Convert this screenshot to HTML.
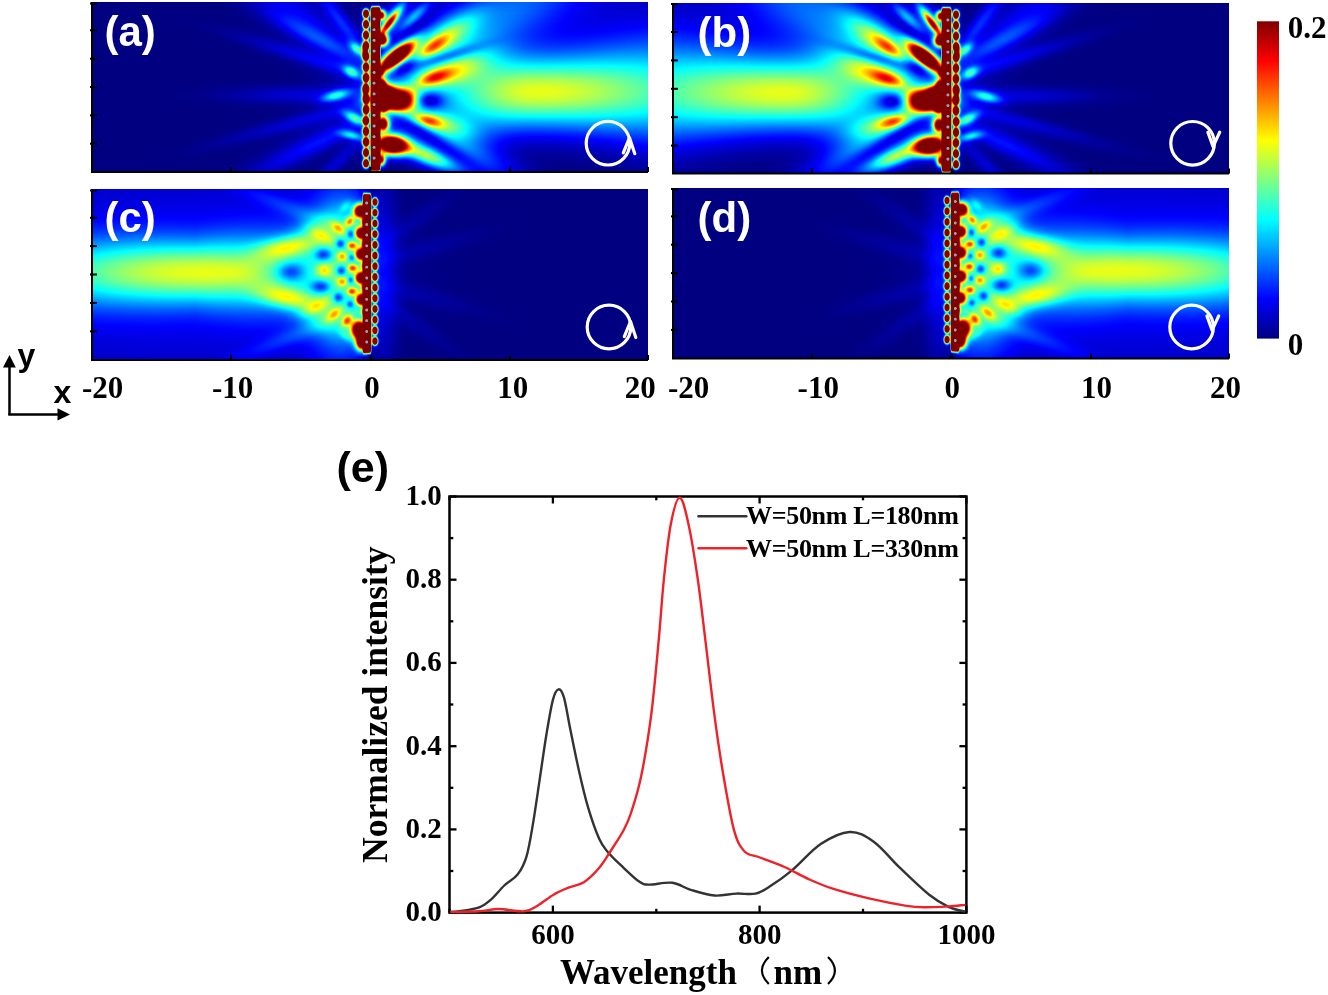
<!DOCTYPE html>
<html><head><meta charset="utf-8"><style>
html,body{margin:0;padding:0;background:#fff;}
body{width:1328px;height:995px;overflow:hidden;position:relative;}
canvas{position:absolute;}
.fb{position:absolute;width:557px;}
.t{position:absolute;font-weight:bold;line-height:1;white-space:nowrap;}
svg{position:absolute;left:0;top:0;}
</style></head><body>
<div class="fb" style="left:91px;top:2px;height:170px;background:
 linear-gradient(90deg,transparent 271px,#800000 272px,#800000 290px,transparent 291px),
 radial-gradient(ellipse 40px 14px at 305px 98px,#800000 40%,#ff4000 60%,transparent 100%),
 radial-gradient(ellipse 40px 16px at 302px 50px,#ff3000 35%,#ffc000 60%,transparent 100%),
 radial-gradient(ellipse 40px 14px at 302px 140px,#ff3000 35%,#ffc000 60%,transparent 100%),
 radial-gradient(ellipse 170px 55px at 455px 90px,#d0ff30 0%,#80ff80 30%,#00ffff 55%,#0060ff 80%,transparent 100%),#000080"></div>
<div class="fb" style="left:672px;top:3px;height:171px;background:
 linear-gradient(270deg,transparent 271px,#800000 272px,#800000 290px,transparent 291px),
 radial-gradient(ellipse 40px 14px at 252px 98px,#800000 40%,#ff4000 60%,transparent 100%),
 radial-gradient(ellipse 40px 16px at 255px 50px,#ff3000 35%,#ffc000 60%,transparent 100%),
 radial-gradient(ellipse 40px 14px at 255px 140px,#ff3000 35%,#ffc000 60%,transparent 100%),
 radial-gradient(ellipse 170px 55px at 102px 90px,#d0ff30 0%,#80ff80 30%,#00ffff 55%,#0060ff 80%,transparent 100%),#000080"></div>
<div class="fb" style="left:91px;top:189px;height:171px;background:
 linear-gradient(90deg,transparent 266px,#800000 267px,#800000 287px,transparent 288px),
 radial-gradient(ellipse 60px 70px at 250px 85px,#ffc000 0%,#00ffff 50%,transparent 100%),
 radial-gradient(ellipse 200px 50px at 104px 83px,#d0ff30 0%,#80ff80 30%,#00ffff 55%,#0060ff 80%,transparent 100%),#000080"></div>
<div class="fb" style="left:672px;top:188px;height:171px;background:
 linear-gradient(270deg,transparent 266px,#800000 267px,#800000 287px,transparent 288px),
 radial-gradient(ellipse 60px 70px at 307px 85px,#ffc000 0%,#00ffff 50%,transparent 100%),
 radial-gradient(ellipse 200px 50px at 453px 83px,#d0ff30 0%,#80ff80 30%,#00ffff 55%,#0060ff 80%,transparent 100%),#000080"></div>
<canvas id="ca" width="557" height="170" style="left:91px;top:2px"></canvas>
<canvas id="cb" width="557" height="171" style="left:672px;top:3px"></canvas>
<canvas id="cc" width="557" height="171" style="left:91px;top:189px"></canvas>
<canvas id="cd" width="557" height="171" style="left:672px;top:188px"></canvas>
<svg width="1328" height="995" viewBox="0 0 1328 995">
<path d="M92,2.5 V172 H648" fill="none" stroke="#000" stroke-width="2"/>
<path d="M90,30.3 H97" stroke="#000" stroke-width="2"/>
<path d="M90,58.7 H97" stroke="#000" stroke-width="2"/>
<path d="M90,87 H97" stroke="#000" stroke-width="2"/>
<path d="M90,115.4 H97" stroke="#000" stroke-width="2"/>
<path d="M90,143.7 H97" stroke="#000" stroke-width="2"/>
<path d="M90,3.5 H97" stroke="#000" stroke-width="2"/>
<path d="M231,172 V167" stroke="#000" stroke-width="2"/>
<path d="M370.5,172 V167" stroke="#000" stroke-width="2"/>
<path d="M510,172 V167" stroke="#000" stroke-width="2"/>
<path d="M648,172 V167" stroke="#000" stroke-width="2"/>
<path d="M673,3 V173.5 H1229" fill="none" stroke="#000" stroke-width="2"/>
<path d="M671,32 H678" stroke="#000" stroke-width="2"/>
<path d="M671,60.4 H678" stroke="#000" stroke-width="2"/>
<path d="M671,88.8 H678" stroke="#000" stroke-width="2"/>
<path d="M671,117.2 H678" stroke="#000" stroke-width="2"/>
<path d="M671,145.6 H678" stroke="#000" stroke-width="2"/>
<path d="M671,4 H678" stroke="#000" stroke-width="2"/>
<path d="M812,173.5 V168.5" stroke="#000" stroke-width="2"/>
<path d="M951.5,173.5 V168.5" stroke="#000" stroke-width="2"/>
<path d="M1091,173.5 V168.5" stroke="#000" stroke-width="2"/>
<path d="M1229,173.5 V168.5" stroke="#000" stroke-width="2"/>
<path d="M92,189.5 V360 H648" fill="none" stroke="#000" stroke-width="2"/>
<path d="M90,217.8 H97" stroke="#000" stroke-width="2"/>
<path d="M90,246.1 H97" stroke="#000" stroke-width="2"/>
<path d="M90,274.5 H97" stroke="#000" stroke-width="2"/>
<path d="M90,302.9 H97" stroke="#000" stroke-width="2"/>
<path d="M90,331.3 H97" stroke="#000" stroke-width="2"/>
<path d="M90,190.5 H97" stroke="#000" stroke-width="2"/>
<path d="M231,360 V355" stroke="#000" stroke-width="2"/>
<path d="M370.5,360 V355" stroke="#000" stroke-width="2"/>
<path d="M510,360 V355" stroke="#000" stroke-width="2"/>
<path d="M648,360 V355" stroke="#000" stroke-width="2"/>
<path d="M673,188 V358.5 H1229" fill="none" stroke="#000" stroke-width="2"/>
<path d="M671,216.4 H678" stroke="#000" stroke-width="2"/>
<path d="M671,244.7 H678" stroke="#000" stroke-width="2"/>
<path d="M671,273.1 H678" stroke="#000" stroke-width="2"/>
<path d="M671,301.5 H678" stroke="#000" stroke-width="2"/>
<path d="M671,329.9 H678" stroke="#000" stroke-width="2"/>
<path d="M671,189 H678" stroke="#000" stroke-width="2"/>
<path d="M812,358.5 V353.5" stroke="#000" stroke-width="2"/>
<path d="M951.5,358.5 V353.5" stroke="#000" stroke-width="2"/>
<path d="M1091,358.5 V353.5" stroke="#000" stroke-width="2"/>
<path d="M1229,358.5 V353.5" stroke="#000" stroke-width="2"/>
<circle cx="608" cy="143.2" r="21.8" fill="none" stroke="#fff" stroke-width="3.2"/><path d="M623.3,152.89999999999998 L629.5,137.7 L634.8,153.7" fill="none" stroke="#fff" stroke-width="3.2" stroke-linecap="round" stroke-linejoin="round"/>
<circle cx="1192.6" cy="143.3" r="21.8" fill="none" stroke="#fff" stroke-width="3.2"/><path d="M1207.8999999999999,132.20000000000002 L1213.1,146.60000000000002 L1219.6999999999998,132.20000000000002" fill="none" stroke="#fff" stroke-width="3.2" stroke-linecap="round" stroke-linejoin="round"/>
<circle cx="609" cy="327" r="21.8" fill="none" stroke="#fff" stroke-width="3.2"/><path d="M624.3,336.7 L630.5,321.5 L635.8,337.5" fill="none" stroke="#fff" stroke-width="3.2" stroke-linecap="round" stroke-linejoin="round"/>
<circle cx="1191.6" cy="327" r="21.8" fill="none" stroke="#fff" stroke-width="3.2"/><path d="M1206.8999999999999,315.9 L1212.1,330.3 L1218.6999999999998,315.9" fill="none" stroke="#fff" stroke-width="3.2" stroke-linecap="round" stroke-linejoin="round"/>
<path d="M9.5,415 V366" stroke="#000" stroke-width="2.5"/><path d="M3,367.5 L9.5,355 L15.8,367.5 Z" fill="#000"/>
<path d="M8.3,414.4 H58" stroke="#000" stroke-width="2.5"/><path d="M57.5,408.3 L70,414.4 L57.5,420.5 Z" fill="#000"/>
<defs><linearGradient id="jet" x1="0" y1="1" x2="0" y2="0"><stop offset="0" stop-color="#000080"/><stop offset="0.125" stop-color="#0000ff"/><stop offset="0.375" stop-color="#00ffff"/><stop offset="0.5" stop-color="#80ff80"/><stop offset="0.625" stop-color="#ffff00"/><stop offset="0.875" stop-color="#ff0000"/><stop offset="1" stop-color="#800000"/></linearGradient></defs>
<rect x="1257" y="21.3" width="22" height="317.3" fill="url(#jet)"/>
<rect x="449.5" y="496.5" width="516.9" height="416.1" fill="none" stroke="#000" stroke-width="2.5"/>
<path d="M449.5,912.6 V908.8000000000001" stroke="#000" stroke-width="2.3"/>
<path d="M449.5,496.5 V500.3" stroke="#000" stroke-width="2.3"/>
<path d="M552.9,912.6 V905.6" stroke="#000" stroke-width="2.3"/>
<path d="M552.9,496.5 V503.5" stroke="#000" stroke-width="2.3"/>
<path d="M656.3,912.6 V908.8000000000001" stroke="#000" stroke-width="2.3"/>
<path d="M656.3,496.5 V500.3" stroke="#000" stroke-width="2.3"/>
<path d="M759.6,912.6 V905.6" stroke="#000" stroke-width="2.3"/>
<path d="M759.6,496.5 V503.5" stroke="#000" stroke-width="2.3"/>
<path d="M863.0,912.6 V908.8000000000001" stroke="#000" stroke-width="2.3"/>
<path d="M863.0,496.5 V500.3" stroke="#000" stroke-width="2.3"/>
<path d="M966.4,912.6 V905.6" stroke="#000" stroke-width="2.3"/>
<path d="M966.4,496.5 V503.5" stroke="#000" stroke-width="2.3"/>
<path d="M449.5,912.6 H456.5" stroke="#000" stroke-width="2.3"/>
<path d="M966.4,912.6 H959.4" stroke="#000" stroke-width="2.3"/>
<path d="M449.5,871.0 H453.3" stroke="#000" stroke-width="2.3"/>
<path d="M966.4,871.0 H962.6" stroke="#000" stroke-width="2.3"/>
<path d="M449.5,829.4 H456.5" stroke="#000" stroke-width="2.3"/>
<path d="M966.4,829.4 H959.4" stroke="#000" stroke-width="2.3"/>
<path d="M449.5,787.8 H453.3" stroke="#000" stroke-width="2.3"/>
<path d="M966.4,787.8 H962.6" stroke="#000" stroke-width="2.3"/>
<path d="M449.5,746.2 H456.5" stroke="#000" stroke-width="2.3"/>
<path d="M966.4,746.2 H959.4" stroke="#000" stroke-width="2.3"/>
<path d="M449.5,704.5 H453.3" stroke="#000" stroke-width="2.3"/>
<path d="M966.4,704.5 H962.6" stroke="#000" stroke-width="2.3"/>
<path d="M449.5,662.9 H456.5" stroke="#000" stroke-width="2.3"/>
<path d="M966.4,662.9 H959.4" stroke="#000" stroke-width="2.3"/>
<path d="M449.5,621.3 H453.3" stroke="#000" stroke-width="2.3"/>
<path d="M966.4,621.3 H962.6" stroke="#000" stroke-width="2.3"/>
<path d="M449.5,579.7 H456.5" stroke="#000" stroke-width="2.3"/>
<path d="M966.4,579.7 H959.4" stroke="#000" stroke-width="2.3"/>
<path d="M449.5,538.1 H453.3" stroke="#000" stroke-width="2.3"/>
<path d="M966.4,538.1 H962.6" stroke="#000" stroke-width="2.3"/>
<path d="M449.5,496.5 H456.5" stroke="#000" stroke-width="2.3"/>
<path d="M966.4,496.5 H959.4" stroke="#000" stroke-width="2.3"/>
<path d="M450.4,912.0 C451.9,911.9 454.8,912.1 459.6,911.3 C464.4,910.5 474.0,909.3 479.2,907.4 C484.4,905.5 486.8,903.2 491.0,899.6 C495.2,896.0 499.9,889.7 504.3,885.5 C508.7,881.3 513.9,879.3 517.6,874.5 C521.3,869.7 523.8,865.3 526.4,856.8 C529.0,848.3 530.8,836.5 533.0,823.6 C535.2,810.7 537.5,794.1 539.7,779.4 C541.9,764.7 544.1,748.5 546.3,735.2 C548.5,722.0 550.9,707.5 552.9,699.9 C554.9,692.2 556.6,689.7 558.5,689.3 C560.4,688.9 562.0,690.8 564.0,697.7 C566.0,704.6 568.0,718.3 570.6,730.8 C573.2,743.3 576.5,759.9 579.4,772.8 C582.3,785.7 585.0,797.2 588.3,808.2 C591.6,819.2 596.0,831.7 599.3,839.1 C602.6,846.5 604.2,847.6 608.2,852.4 C612.2,857.2 618.5,862.9 623.6,867.8 C628.8,872.6 634.9,878.7 639.1,881.5 C643.3,884.3 643.5,884.4 649.0,884.6 C654.5,884.8 665.4,881.9 672.4,882.8 C679.4,883.7 683.7,887.7 690.7,889.8 C697.7,891.9 706.9,894.9 714.5,895.5 C722.1,896.1 729.4,893.9 736.2,893.6 C743.0,893.3 749.9,894.8 755.5,893.6 C761.1,892.4 764.0,890.1 770.0,886.3 C776.0,882.5 783.2,877.6 791.7,870.6 C800.2,863.6 811.1,850.5 820.7,844.1 C830.4,837.7 840.8,832.4 849.6,832.0 C858.4,831.6 865.2,835.7 873.7,841.7 C882.2,847.7 891.0,859.4 900.3,868.2 C909.5,877.1 921.2,888.4 929.2,894.8 C937.2,901.2 942.5,904.0 948.5,906.8 C954.5,909.6 962.6,910.9 965.4,911.7" fill="none" stroke="#333333" stroke-width="2.4"/>
<path d="M450.4,912.0 C455.2,911.9 470.9,911.8 479.0,911.3 C487.1,910.8 491.2,909.0 498.7,909.0 C506.2,909.0 517.7,911.9 524.2,911.3 C530.7,910.7 533.0,908.3 537.9,905.5 C542.8,902.7 548.4,897.7 553.5,894.7 C558.6,891.7 563.3,889.8 568.4,887.7 C573.5,885.6 578.8,885.5 583.9,882.2 C589.0,878.9 594.5,873.5 599.3,867.8 C604.1,862.1 608.5,854.2 612.6,848.0 C616.7,841.8 620.5,836.1 623.6,830.3 C626.7,824.5 628.1,821.9 631.0,813.0 C633.9,804.1 637.6,793.2 641.0,777.0 C644.4,760.8 648.1,738.5 651.1,715.7 C654.1,692.9 656.6,662.9 658.7,640.3 C660.8,617.7 661.8,599.4 663.8,580.0 C665.8,560.6 668.1,537.9 670.8,524.2 C673.4,510.5 676.8,497.7 679.7,497.7 C682.7,497.7 685.5,510.5 688.5,524.2 C691.5,537.9 695.1,560.6 697.9,580.0 C700.7,599.4 702.6,617.7 705.4,640.3 C708.2,662.9 711.5,693.1 714.5,715.7 C717.5,738.3 720.2,756.9 723.5,776.0 C726.8,795.1 730.6,817.8 734.1,830.4 C737.6,843.0 740.3,847.0 744.6,851.5 C748.9,856.0 753.4,854.9 760.0,857.5 C766.6,860.1 776.4,863.4 784.5,867.0 C792.6,870.6 800.6,875.5 808.6,879.1 C816.6,882.7 822.7,885.5 832.7,888.7 C842.8,891.9 856.8,895.6 868.9,898.4 C881.0,901.2 895.9,904.1 905.1,905.6 C914.4,907.1 917.2,907.2 924.4,907.3 C931.6,907.4 941.7,906.8 948.5,906.4 C955.3,906.0 962.6,905.1 965.4,904.9" fill="none" stroke="#ee2229" stroke-width="2.4"/>
<path d="M698.5,516.2 H746.3" stroke="#333333" stroke-width="2.4" stroke-linecap="round"/>
<path d="M698.5,548.2 H746.3" stroke="#ee2229" stroke-width="2.4" stroke-linecap="round"/>
</svg>
<div class="t" style="left:104.5px;top:11px;font-size:42px;font-family:'Liberation Sans';color:#fff;">(a)</div>
<div class="t" style="left:697.5px;top:12px;font-size:42px;font-family:'Liberation Sans';color:#fff;">(b)</div>
<div class="t" style="left:104.5px;top:197px;font-size:42px;font-family:'Liberation Sans';color:#fff;">(c)</div>
<div class="t" style="left:697.5px;top:197px;font-size:42px;font-family:'Liberation Sans';color:#fff;">(d)</div>
<div class="t" style="left:82px;top:371.5px;font-size:31px;font-family:'Liberation Serif';color:#000;">-20</div>
<div class="t" style="left:212px;top:371.5px;font-size:31px;font-family:'Liberation Serif';color:#000;">-10</div>
<div class="t" style="left:364.3px;top:371.5px;font-size:31px;font-family:'Liberation Serif';color:#000;">0</div>
<div class="t" style="left:497.2px;top:371.5px;font-size:31px;font-family:'Liberation Serif';color:#000;">10</div>
<div class="t" style="left:624.8px;top:371.5px;font-size:31px;font-family:'Liberation Serif';color:#000;">20</div>
<div class="t" style="left:668px;top:371.5px;font-size:31px;font-family:'Liberation Serif';color:#000;">-20</div>
<div class="t" style="left:797.6px;top:371.5px;font-size:31px;font-family:'Liberation Serif';color:#000;">-10</div>
<div class="t" style="left:944.4px;top:371.5px;font-size:31px;font-family:'Liberation Serif';color:#000;">0</div>
<div class="t" style="left:1081px;top:371.5px;font-size:31px;font-family:'Liberation Serif';color:#000;">10</div>
<div class="t" style="left:1210px;top:371.5px;font-size:31px;font-family:'Liberation Serif';color:#000;">20</div>
<div class="t" style="left:1287.8px;top:11.5px;font-size:31px;font-family:'Liberation Serif';color:#000;">0.2</div>
<div class="t" style="left:1287.8px;top:328.5px;font-size:31px;font-family:'Liberation Serif';color:#000;">0</div>
<div class="t" style="left:17.5px;top:338.5px;font-size:32px;font-family:'Liberation Sans';color:#000;">y</div>
<div class="t" style="left:53.5px;top:376px;font-size:32px;font-family:'Liberation Sans';color:#000;">x</div>
<div class="t" style="left:336.5px;top:446px;font-size:43px;font-family:'Liberation Sans';color:#000;">(e)</div>
<div class="t" style="left:405.5px;top:897.1px;font-size:29px;font-family:'Liberation Serif';color:#000;">0.0</div>
<div class="t" style="left:405.5px;top:813.88px;font-size:29px;font-family:'Liberation Serif';color:#000;">0.2</div>
<div class="t" style="left:405.5px;top:730.66px;font-size:29px;font-family:'Liberation Serif';color:#000;">0.4</div>
<div class="t" style="left:405.5px;top:647.4399999999999px;font-size:29px;font-family:'Liberation Serif';color:#000;">0.6</div>
<div class="t" style="left:405.5px;top:564.22px;font-size:29px;font-family:'Liberation Serif';color:#000;">0.8</div>
<div class="t" style="left:405.5px;top:481.0px;font-size:29px;font-family:'Liberation Serif';color:#000;">1.0</div>
<div class="t" style="left:512.88px;top:919.5px;font-size:29px;font-family:'Liberation Serif';color:#000;width:80px;text-align:center">600</div>
<div class="t" style="left:719.64px;top:919.5px;font-size:29px;font-family:'Liberation Serif';color:#000;width:80px;text-align:center">800</div>
<div class="t" style="left:926.4px;top:919.5px;font-size:29px;font-family:'Liberation Serif';color:#000;width:80px;text-align:center">1000</div>
<div class="t" style="left:746px;top:503.3px;font-size:26px;font-family:'Liberation Serif';color:#000;letter-spacing:-0.3px">W=50nm L=180nm</div>
<div class="t" style="left:746px;top:535.5px;font-size:26px;font-family:'Liberation Serif';color:#000;letter-spacing:-0.3px">W=50nm L=330nm</div>
<div class="t" style="left:357.5px;top:863px;font-size:35.5px;font-family:'Liberation Serif';transform-origin:0 0;transform:rotate(-90deg)">Normalized intensity</div>
<div class="t" style="left:560px;top:954.5px;font-size:35px;font-family:'Liberation Serif'">Wavelength</div>
<div class="t" style="left:773.5px;top:954.5px;font-size:35px;font-family:'Liberation Serif'">nm</div>
<svg width="1328" height="995" style="position:absolute;left:0;top:0"><path d="M768.8,957 Q755,970.5 768.8,984" fill="none" stroke="#000" stroke-width="2.2"/><path d="M828,957 Q841.8,970.5 828,984" fill="none" stroke="#000" stroke-width="2.2"/></svg>
<script>
(function(){
function cl(v){return v<0?0:(v>1?1:v);}
function G(x,y,p){ // p=[cx,cy,sl,sw,angDeg,amp]
  if(p.length<7){var a=p[4]*Math.PI/180;p[6]=Math.cos(a);p[7]=Math.sin(a);p[8]=0.5/(p[2]*p[2]);p[9]=0.5/(p[3]*p[3]);p[10]=4.9*Math.max(p[2],p[3]);}
  var dx=x-p[0], dy=y-p[1];
  if(dx>p[10]||dx<-p[10]||dy>p[10]||dy<-p[10]) return 0;
  var u=dx*p[6]+dy*p[7], v=-dx*p[7]+dy*p[6];
  var e=u*u*p[8]+v*v*p[9];
  return e>12?0:p[5]*Math.exp(-e);
}
function sumG(x,y,L){var t=0;for(var i=0;i<L.length;i++)t+=G(x,y,L[i]);return t;}
function mulG(x,y,L){var m=1;for(var i=0;i<L.length;i++)m*=(1-G(x,y,L[i]));return m;}
// ---------------- panel A ----------------
var A_add=[
 // upper/lower wings
 [490,22,85,24,-30,0.2],[458,150,50,13,26,0.2],[600,25,90,40,0,0.07],
 // R_A thin ray near top
 [389,23.5,11,2.6,-53,0.75],[391,20,17,6,-53,0.28],
 // upper cyan ray
 [414,17,14,4,-45,0.25],
 // R_B dark red root
 [396,57,15,5,-40,1.5],
 // R_B ext orange + halo
 [433,46.5,12,4.5,-35,0.3],[443,39,28,9,-35,0.3],
 // R_E orange + halo
 [433,78,12,4.5,-18,0.35],[443,75,26,9,-18,0.3],
 // R_F central dark red
 [394,100,14,7.5,0,1.6],[387,92,5,5,0,0.8],
 // R_G
 [428,120.5,10,4.2,15,0.35],[436,122,24,8,15,0.28],
 // R_H dark red
 [391,145,11,6.5,6,1.5],
 // R_H ext yellow/cyan ray
 [425,155,22,6,22,0.45],
 // left spots
 [357,49,6,3,40,0.33],[351.5,72,6,3.5,30,0.33],[336,95.5,10,3.5,-15,0.33],[354.5,118,8,3.5,26,0.38],[351.5,135.4,8,3,12,0.3],
 // faint left rays
 [340,20,30,5,53,0.13],[320,40,40,6,27,0.12],[300,95,50,6,0,0.08],[325,140,40,6,-25,0.1],[310,25,60,20,40,0.06],
 [315,60,55,5,17,0.09],[305,120,60,5,-15,0.08],[335,165,35,5,-45,0.08],[290,10,50,10,35,0.06],[280,160,60,10,-30,0.05]
];
var A_bump=[[381,15,3,3.5,0,1.1],[382,40,4,4,-30,1.3],[381,84,3.5,4,0,1.1],[383,124,4,5,0,1.2],[381,160,3,4,0,1.0],[379,72,3,3,0,0.9],[383,108,3,3,0,0.8],[365,51,2,4,0,0.7],[365,91,2,4,0,0.7]];
var A_mul=[
 [430,100.5,9,5.5,0,0.75],
 [420,132,25,4.5,29,0.6],[452,153,25,6,29,0.5],
 [405,68,9,4,-30,0.6],[445,57,30,4,-17,0.45],
 [415,28,18,4,-33,0.5]
];
function strip(x,y,xm,hw,y0,y1,xb,yb0,yb1,bsx,bsy){
  var t=0;
  var d=x-xm;
  if(Math.abs(d)<hw*2.5){
    var ey = y<y0? Math.exp(-Math.pow((y0-y)/3,2)) : (y>y1? Math.exp(-Math.pow((y-y1)/3,2)) : 1);
    t += 1.8*Math.exp(-Math.pow(Math.abs(d)/hw,8))*ey;
  }
  if(Math.abs(x-xb)<12){
    for(var k=0;k<16;k++){
      var cy=yb0+k*10.7; if(cy>yb1) break;
      t+=G(x,y,[xb,cy,bsy,bsx,90,2.6]);
    }
  }
  return t;
}
function dots(x,y,x0,y0,y1){
  if(Math.abs(x-x0)>2.5) return 0;
  var k=Math.round((y-y0)/10.7); var cy=y0+k*10.7;
  if(cy<y0-1||cy>y1) return 0;
  var r2=(x-x0)*(x-x0)+(y-cy)*(y-cy);
  return r2<2.2?1:0;
}
function fieldA(x,y){
  var xf=535,yb=92.5,w0=25;
  var zr = x<xf?75:125;
  var dz=(x-xf)/zr; var sg=w0*Math.sqrt(1+dz*dz);
  var fade=1/(1+Math.exp(-(x-432)/18));
  var t = 0.59*(w0/sg)*Math.exp(-0.5*(y-yb)*(y-yb)/(sg*sg))*fade;
  t += sumG(x,y,A_add);
  t *= mulG(x,y,A_mul);
  t += strip(x,y,375.5,4.6,10,168,366,13.6,165,1.9,2.6);
  t += sumG(x,y,A_bump);
  return t;
}
// ---------------- panel C ----------------
var C_add=[
 [200,272,300,85,0,0.13],
 // envelope near surface (cyan)
 [340,272,22,56,0,0.27],[318,225,25,9,-35,0.07],[318,320,25,9,35,0.07],
 // diagonal bands
 [300,244,40,9,-22,0.12],[300,301,40,9,22,0.12],[284,247,20,7,-8,0.21],[284,298,20,7,8,0.21],
 // column x~352 orange
 [350,221.2,4,3,-50,0.42],[352,245.7,3.2,2.8,0,0.45],[352.5,268.2,3.2,2.8,0,0.42],[352,291.5,3.2,2.8,0,0.45],[347.1,320.9,4.5,3,-55,0.42],
 // column x~342 yellow
 [338.3,228.1,5.5,3.2,40,0.24],[342.2,256.5,3.5,3.2,0,0.27],[342.2,281.7,3.5,3.2,0,0.27],[334.4,314,6,3.2,-40,0.24],
 // column x~320 yellow-green
 [320.7,235,11,4.5,30,0.15],[323.6,270.2,5,4.5,0,0.2],[316.8,306.2,11,4.5,-30,0.15],
 // cyan small near strip
 [357,224.2,2.2,2.2,0,0.1],[357,244.7,2.2,2.2,0,0.1],[357,267.3,2.2,2.2,0,0.1],[357,290,2.2,2.2,0,0.1],[357,312.1,2.2,2.2,0,0.1],
 // top & bottom near-surface
 [346,206,5,3,-45,0.12],[345,335,6,3,45,0.12],
 // faint rays
 [300,212,50,6,22,0.08],[300,333,50,6,-22,0.08]
];
var C_bump=[[361,211,4.5,4.5,0,1.4],[362,233,4,4,0,1.3],[362,254,4,4,0,1.3],[362,277.8,4,4,0,1.3],[362.5,299.4,4,4,0,1.3],[360,330,5.5,6,-10,1.4],[362,343,4,5,0,1.2],[365,222,2.5,3,0,0.9],[365,244,2.5,3,0,0.9],[365,266,2.5,3,0,0.9],[365,288,2.5,3,0,0.9],[365,312,2.5,3,0,0.9],[366,340,2.5,4,0,1.0]];
var C_right=[[420,250,45,6,-15,0.03],[420,295,45,6,15,0.03],[410,225,40,6,-35,0.03],[410,320,40,6,35,0.03]];
var C_mul=[
 [291,272,9,6,0,0.5],[351,234,2.8,2.8,0,0.55],[340.3,243.8,3.2,3.2,0,0.6],[323.6,254.5,6,4.5,0,0.6],[352,257.5,2.3,2.3,0,0.5],
 [341.3,270.6,3.5,3.5,0,0.6],[351,279.8,2.3,2.3,0,0.5],[320.7,286.6,7,4.5,0,0.6],[338.3,297.4,3.5,3.5,0,0.6],[350,304.3,2.3,2.3,0,0.5]
];
function fieldC(x,y){
  var xf=195,yb=272.4;
  var sg = 21 + (x<xf? (xf-x)*0.02 : (x-xf)*0.07);
  var L = x<xf?170:115;
  var A = 0.47*Math.exp(-Math.pow((x-xf)/L,2));
  var fade=1/(1+Math.exp((x-366)/3));
  var t = A*Math.exp(-0.5*(y-yb)*(y-yb)/(sg*sg));
  t += sumG(x,y,C_add)*fade;
  t *= mulG(x,y,C_mul);
  if(x>372) t += sumG(x,y,C_right)+G(x,y,[384,272,9,70,0,0.09]);
  t += strip(x,y,367,4.0,197,350,375,202,350,1.6,2.3);
  t += sumG(x,y,C_bump);
  return t;
}
function jetc(t){
  if(t<0)t=0; if(t>1)t=1;
  return [cl(1.5-Math.abs(4*t-3))*255, cl(1.5-Math.abs(4*t-2))*255, cl(1.5-Math.abs(4*t-1))*255];
}
function paint(id, ox, oy, fn, mirror, dy, dotx0, doty0, doty1){
  var cv=document.getElementById(id); if(!cv||!cv.getContext) return;
  var w=cv.width,h=cv.height,ctx=cv.getContext('2d');
  var img=ctx.createImageData(w,h), d=img.data;
  var SS=2;
  for(var j=0;j<h;j++){
    for(var i=0;i<w;i++){
      var r=0,g=0,b=0;
      for(var sj=0;sj<SS;sj++)for(var si=0;si<SS;si++){
        var X=ox+i+(si+0.5)/SS, Y=oy+j+(sj+0.5)/SS+dy;
        if(mirror) X=1322-X;
        var c=jetc(fn(X,Y));
        if(dots(X,Y,dotx0,doty0,doty1)){c=[150,160,190];}
        r+=c[0];g+=c[1];b+=c[2];
      }
      var k=4*(j*w+i), n=SS*SS;
      d[k]=r/n; d[k+1]=g/n; d[k+2]=b/n; d[k+3]=255;
    }
  }
  ctx.putImageData(img,0,0);
}
paint('ca',91,2,fieldA,false,0,374.1,19,165);
paint('cb',672,3,fieldA,true,-1,374.1,19,165);
paint('cc',91,189,fieldC,false,0,366.7,203,350);
paint('cd',672,188,fieldC,true,1.5,366.7,203,350);
})();

</script>
</body></html>
